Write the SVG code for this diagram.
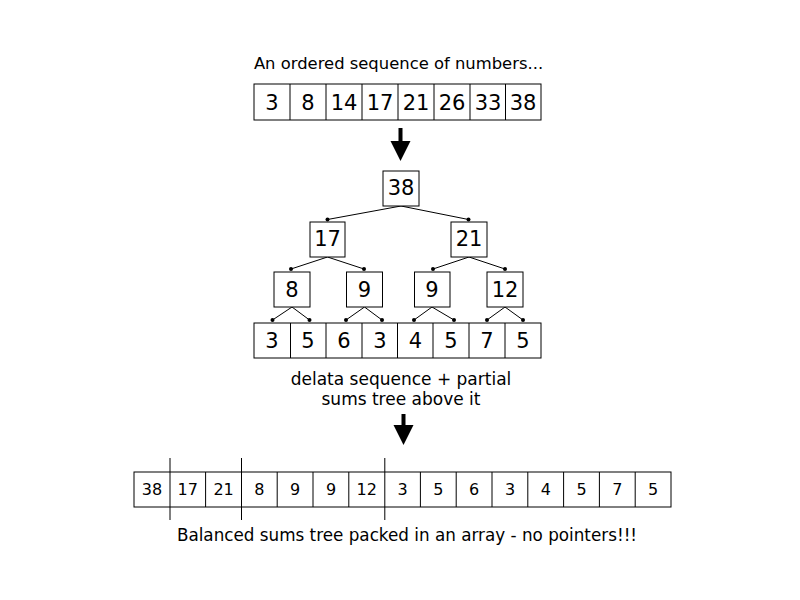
<svg xmlns="http://www.w3.org/2000/svg" width="800" height="600" viewBox="0 0 800 600">
<style>
.box{fill:#fff;stroke:#000;stroke-width:1}
.big{font-family:"DejaVu Sans",sans-serif;font-size:21px;fill:#000;text-anchor:middle}
.small{font-family:"DejaVu Sans",sans-serif;font-size:16px;fill:#000;text-anchor:middle}
.lbl{font-family:"DejaVu Sans",sans-serif;font-size:17px;fill:#000;text-anchor:middle}
.edge{stroke:#000;stroke-width:1;fill:none}
.dot{fill:#000}
.sep{stroke:#000;stroke-width:1}
</style>
<rect width="800" height="600" fill="#fff"/>
<text class="lbl" x="398.5" y="69" style="font-size:16.4px">An ordered sequence of numbers...</text>
<g id="top-array">
<rect class="box" x="254" y="84" width="287" height="36"/>
<g class="edge">
<line x1="290" y1="84" x2="290" y2="120"/><line x1="326" y1="84" x2="326" y2="120"/><line x1="362" y1="84" x2="362" y2="120"/><line x1="398" y1="84" x2="398" y2="120"/><line x1="434" y1="84" x2="434" y2="120"/><line x1="470" y1="84" x2="470" y2="120"/><line x1="505.5" y1="84" x2="505.5" y2="120"/>
</g>
<text class="big" x="272" y="110">3</text><text class="big" x="308" y="110">8</text><text class="big" x="344" y="110">14</text><text class="big" x="380" y="110">17</text><text class="big" x="416" y="110">21</text><text class="big" x="452" y="110">26</text><text class="big" x="488" y="110">33</text><text class="big" x="523" y="110">38</text>
</g>
<g id="arrow1"><polygon points="398.5,128 402.5,128 402.5,141 410.5,141 400.5,161 390.5,141 398.5,141" fill="#000"/></g>
<g id="connectors">
<polyline class="edge" points="327.5,219.5 401,206 468.5,219.5"/>
<polyline class="edge" points="291,269 327.5,257 364,269"/>
<polyline class="edge" points="433,269 469,257 505,269"/>
<polyline class="edge" points="272.5,320 292,307 309.5,320"/>
<polyline class="edge" points="346,320 364.5,307 382,320"/>
<polyline class="edge" points="414,320 432,307 454,320"/>
<polyline class="edge" points="487,320 505,307 523,320"/>
<g class="dot">
<circle cx="327.5" cy="219.5" r="2"/><circle cx="468.5" cy="219.5" r="2"/>
<circle cx="291" cy="269" r="2"/><circle cx="364" cy="269" r="2"/><circle cx="433" cy="269" r="2"/><circle cx="505" cy="269" r="2"/>
<circle cx="272.5" cy="320" r="2"/><circle cx="309.5" cy="320" r="2"/><circle cx="346" cy="320" r="2"/><circle cx="382" cy="320" r="2"/><circle cx="414" cy="320" r="2"/><circle cx="454" cy="320" r="2"/><circle cx="487" cy="320" r="2"/><circle cx="523" cy="320" r="2"/>
</g>
</g>
<g id="n38"><rect class="box" x="383" y="171" width="36" height="35"/><text class="big" x="401" y="195">38</text></g>
<g id="n17"><rect class="box" x="310" y="222" width="35" height="35"/><text class="big" x="327.5" y="246">17</text></g>
<g id="n21"><rect class="box" x="451" y="222" width="36" height="35"/><text class="big" x="469" y="246">21</text></g>
<g id="n8"><rect class="box" x="274" y="272" width="36" height="35"/><text class="big" x="292" y="297">8</text></g>
<g id="n9a"><rect class="box" x="346.5" y="272" width="36" height="35"/><text class="big" x="364.5" y="297">9</text></g>
<g id="n9b"><rect class="box" x="414.5" y="272" width="35.5" height="35"/><text class="big" x="432" y="297">9</text></g>
<g id="n12"><rect class="box" x="487" y="272" width="36" height="35"/><text class="big" x="505" y="297">12</text></g>
<g id="leaf-array">
<rect class="box" x="254" y="323" width="287" height="35"/>
<g class="edge">
<line x1="290.5" y1="323" x2="290.5" y2="358"/><line x1="326" y1="323" x2="326" y2="358"/><line x1="362" y1="323" x2="362" y2="358"/><line x1="397.5" y1="323" x2="397.5" y2="358"/><line x1="433" y1="323" x2="433" y2="358"/><line x1="469" y1="323" x2="469" y2="358"/><line x1="505" y1="323" x2="505" y2="358"/>
</g>
<text class="big" x="272" y="348">3</text><text class="big" x="308" y="348">5</text><text class="big" x="344" y="348">6</text><text class="big" x="380" y="348">3</text><text class="big" x="415.5" y="348">4</text><text class="big" x="451" y="348">5</text><text class="big" x="487" y="348">7</text><text class="big" x="523" y="348">5</text>
</g>
<text class="lbl" x="401" y="385">delata sequence + partial</text>
<text class="lbl" x="401" y="405">sums tree above it</text>
<g id="arrow2"><polygon points="401.5,414 405.5,414 405.5,425 413.5,425 403.5,445 393.5,425 401.5,425" fill="#000"/></g>
<g id="packed-array">
<rect class="box" x="134" y="472" width="537" height="35"/>
<g class="edge">
<line x1="205.6" y1="472" x2="205.6" y2="507"/><line x1="277.2" y1="472" x2="277.2" y2="507"/><line x1="313" y1="472" x2="313" y2="507"/><line x1="348.8" y1="472" x2="348.8" y2="507"/><line x1="420.4" y1="472" x2="420.4" y2="507"/><line x1="456.2" y1="472" x2="456.2" y2="507"/><line x1="492" y1="472" x2="492" y2="507"/><line x1="527.8" y1="472" x2="527.8" y2="507"/><line x1="563.6" y1="472" x2="563.6" y2="507"/><line x1="599.4" y1="472" x2="599.4" y2="507"/><line x1="635.2" y1="472" x2="635.2" y2="507"/>
</g>
<g class="sep"><line x1="170" y1="458" x2="170" y2="520"/><line x1="241.5" y1="458" x2="241.5" y2="520"/><line x1="384.8" y1="458" x2="384.8" y2="520"/></g>
<g class="small">
<text x="152" y="495">38</text><text x="187.8" y="495">17</text><text x="223.6" y="495">21</text><text x="259.4" y="495">8</text><text x="295.2" y="495">9</text><text x="331" y="495">9</text><text x="366.8" y="495">12</text><text x="402.6" y="495">3</text><text x="438.4" y="495">5</text><text x="474.2" y="495">6</text><text x="510" y="495">3</text><text x="545.8" y="495">4</text><text x="581.6" y="495">5</text><text x="617.4" y="495">7</text><text x="653.2" y="495">5</text>
</g>
</g>
<text class="lbl" x="407" y="541" style="font-size:16.8px">Balanced sums tree packed in an array - no pointers!!!</text>
</svg>
